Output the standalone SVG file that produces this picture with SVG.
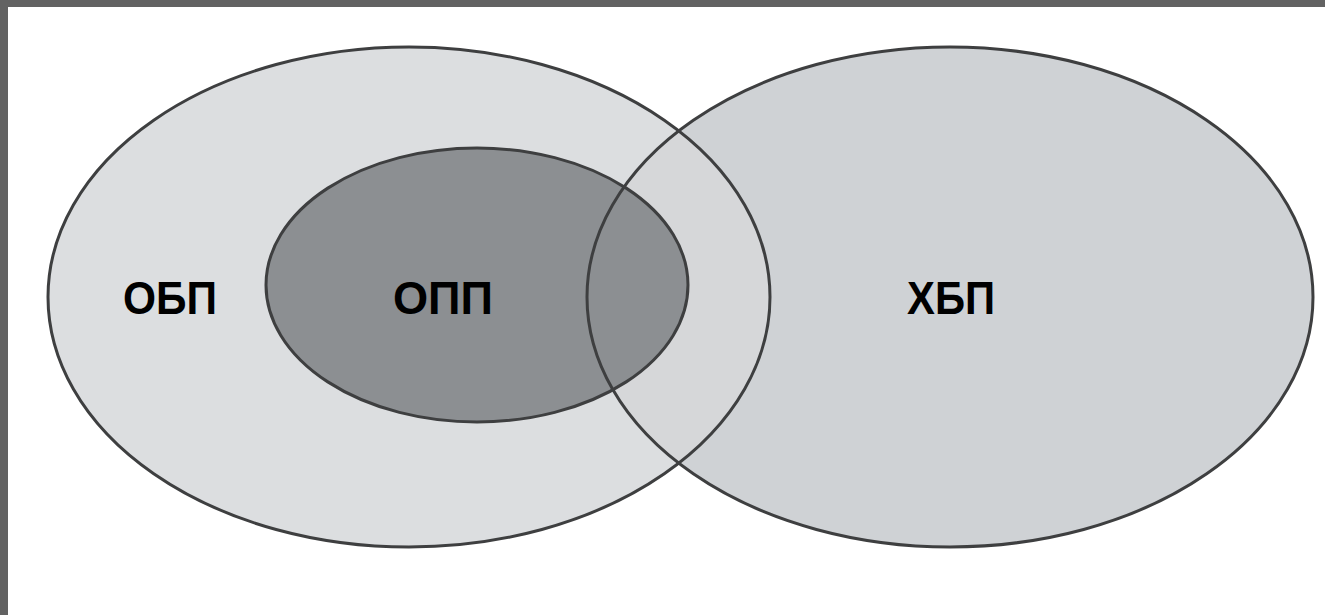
<svg xmlns="http://www.w3.org/2000/svg" width="1325" height="615" viewBox="0 0 1325 615">
  <style>
    .outline { fill: none; stroke: #3e3f40; stroke-width: 3; }
    .label { font-family: "Liberation Sans", Arial, sans-serif; font-weight: bold; font-size: 46px; fill: #000; }
  </style>
  <defs>
    <clipPath id="clipRight">
      <ellipse cx="950" cy="297" rx="363" ry="250"/>
    </clipPath>
  </defs>
  <rect x="0" y="0" width="1325" height="615" fill="#ffffff"/>
  <rect x="0" y="0" width="1325" height="7" fill="#626262"/>
  <rect x="0" y="0" width="8" height="615" fill="#626262"/>

  <g id="obp">
    <ellipse cx="409" cy="297" rx="361" ry="250" fill="#dcdee0"/>
  </g>
  <g id="hbp">
    <ellipse cx="950" cy="297" rx="363" ry="250" fill="#cfd2d5"/>
    <ellipse cx="409" cy="297" rx="361" ry="250" fill="#d6d7d9" clip-path="url(#clipRight)"/>
  </g>
  <g id="opp">
    <ellipse cx="477" cy="285" rx="211" ry="137" fill="#8c8f92"/>
  </g>

  <g id="outlines">
    <ellipse class="outline" cx="409" cy="297" rx="361" ry="250"/>
    <ellipse class="outline" cx="950" cy="297" rx="363" ry="250"/>
    <ellipse class="outline" cx="477" cy="285" rx="211" ry="137"/>
  </g>

  <g id="labels">
    <text class="label" x="123" y="314" textLength="94" lengthAdjust="spacingAndGlyphs">ОБП</text>
    <text class="label" x="393" y="314" textLength="100" lengthAdjust="spacingAndGlyphs">ОПП</text>
    <text class="label" x="907" y="314" textLength="88" lengthAdjust="spacingAndGlyphs">ХБП</text>
  </g>
</svg>
